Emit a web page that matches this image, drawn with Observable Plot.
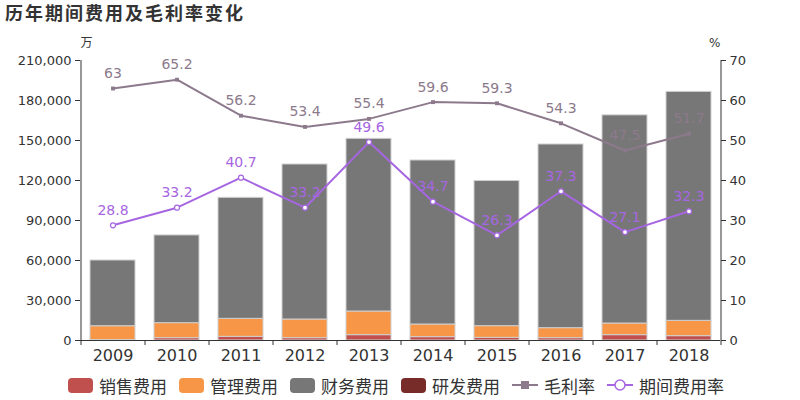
<!DOCTYPE html>
<html>
<head>
<meta charset="utf-8">
<script src="https://cdn.jsdelivr.net/npm/d3@7"></script>
<script src="https://cdn.jsdelivr.net/npm/@observablehq/plot@0.6"></script>
<style>
  html, body { margin: 0; padding: 0; background: #fff; }
  body { width: 800px; height: 400px; overflow: hidden; font-family: "DejaVu Sans", "Noto Sans CJK SC", sans-serif; }
  #title { height: 30px; line-height: 27px; padding-left: 5px; font-size: 18px; font-weight: bold; color: #333; letter-spacing: 2px; }
  #legend { height: 30px; display: flex; align-items: center; justify-content: center; gap: 12px; font-size: 17px; color: #333; padding-right: 8px; }
  .item { display: flex; align-items: center; gap: 6px; }
  .sw { width: 25px; height: 15px; border-radius: 4px; display: inline-block; }
</style>
</head>
<body>
<div id="title">历年期间费用及毛利率变化</div>
<div id="chart"></div>
<div id="legend"></div>
<script>
const years = ["2009","2010","2011","2012","2013","2014","2015","2016","2017","2018"];
const seriesNames = ["销售费用","管理费用","财务费用","研发费用"];
const sales   = [300, 1750, 2750, 1750, 4000, 2500, 2000, 1750, 4000, 3250];
const admin   = [10400, 11250, 13500, 14000, 17750, 9500, 8750, 7500, 8750, 11500];
const finance = [49300, 65800, 90750, 116250, 129500, 123000, 108850, 137750, 156100, 171700];
const rnd     = [0, 0, 0, 0, 0, 0, 0, 0, 0, 0];
const grossMargin = [63, 65.2, 56.2, 53.4, 55.4, 59.6, 59.3, 54.3, 47.5, 51.7];
const periodRate  = [28.8, 33.2, 40.7, 33.2, 49.6, 34.7, 26.3, 37.3, 27.1, 32.3];
const leftTicks = [0, 30000, 60000, 90000, 120000, 150000, 180000, 210000];
const rightTicks = [0, 10, 20, 30, 40, 50, 60, 70];
const lineNames = ["毛利率","期间费用率"];

const colors = ["#c0504d", "#f79646", "#777777", "#772c2a"];
const gmColor = "#8c7a8c";
const prColor = "#a666e1";
const ratio = 210000 / 70;

const seriesVals = [sales, admin, finance, rnd];
const bars = [];
years.forEach((y, i) => seriesNames.forEach((s, k) => bars.push({year: y, type: s, value: seriesVals[k][i]})));
const lines = years.map((y, i) => ({year: y, gm: grossMargin[i], pr: periodRate[i]}));

const half = 32;
const chart = Plot.plot({
  width: 800,
  height: 340,
  marginLeft: 80,
  marginRight: 80,
  marginTop: 30,
  marginBottom: 30,
  style: {fontFamily: '"DejaVu Sans", "Noto Sans CJK SC", sans-serif', fontSize: "13px", color: "#333", overflow: "visible"},
  x: {domain: years, paddingInner: 0.3, paddingOuter: 0.15, axis: null},
  y: {domain: [0, 210000], axis: null},
  color: {domain: seriesNames, range: colors},
  marks: [
    Plot.barY(bars, {x: "year", y: "value", fill: "type", stroke: "#d0d0d0", strokeWidth: 1}),
    Plot.ruleY([0], {stroke: "#333"}),
    Plot.ruleX([years[0]], {dx: -half, y1: 0, y2: 210000, stroke: "#333"}),
    Plot.ruleX([years[years.length - 1]], {dx: half, y1: 0, y2: 210000, stroke: "#333"}),
    Plot.ruleX(years, {dx: -half, y1: 0, y2: 0, insetBottom: -5, stroke: "#333"}),
    Plot.ruleX([years[years.length - 1]], {dx: half, y1: 0, y2: 0, insetBottom: -5, stroke: "#333"}),
    Plot.axisX({tickSize: 0, tickPadding: 9, fontSize: 16, label: null}),
    Plot.axisY({anchor: "left", ticks: leftTicks, tickFormat: d3.format(","), tickSize: 5, label: null, fontSize: 13}),
    Plot.axisY({anchor: "right", ticks: rightTicks.map(d => d * ratio), tickFormat: d => d3.format("d")(d / ratio), tickSize: 5, label: null, fontSize: 13}),
    Plot.text(["万"], {frameAnchor: "top-left", dy: -22, fontSize: 12}),
    Plot.text(["%"], {frameAnchor: "top-right", dy: -22, fontSize: 12}),
    Plot.line(lines, {x: "year", y: d => d.gm * ratio, stroke: gmColor, strokeWidth: 2}),
    Plot.dot(lines, {x: "year", y: d => d.gm * ratio, symbol: "square", r: 2.2, fill: gmColor}),
    Plot.text(lines, {x: "year", y: d => d.gm * ratio, text: d => String(d.gm), dy: -15, fill: gmColor, fontSize: 14}),
    Plot.line(lines, {x: "year", y: d => d.pr * ratio, stroke: prColor, strokeWidth: 2}),
    Plot.dot(lines, {x: "year", y: d => d.pr * ratio, r: 2.5, fill: "#fff", stroke: prColor, strokeWidth: 1.2}),
    Plot.text(lines, {x: "year", y: d => d.pr * ratio, text: d => String(d.pr), dy: -15, fill: prColor, fontSize: 14})
  ]
});
document.getElementById("chart").appendChild(chart);

const legend = document.getElementById("legend");
seriesNames.forEach((s, k) => {
  const it = document.createElement("div");
  it.className = "item";
  it.innerHTML = `<span class="sw" style="background:${colors[k]}"></span><span>${s}</span>`;
  legend.appendChild(it);
});
const lineIcon = (c, sq) => `<svg width="26" height="14" viewBox="0 0 26 14"><line x1="0" y1="7" x2="26" y2="7" stroke="${c}" stroke-width="2"/>` +
  (sq ? `<rect x="9" y="3" width="8" height="8" fill="${c}"/>` : `<circle cx="13" cy="7" r="5" fill="#fff" stroke="${c}" stroke-width="1.5"/>`) + `</svg>`;
lineNames.forEach((s, k) => {
  const it = document.createElement("div");
  it.className = "item";
  it.innerHTML = lineIcon(k === 0 ? gmColor : prColor, k === 0) + `<span>${s}</span>`;
  legend.appendChild(it);
});
</script>
</body>
</html>
